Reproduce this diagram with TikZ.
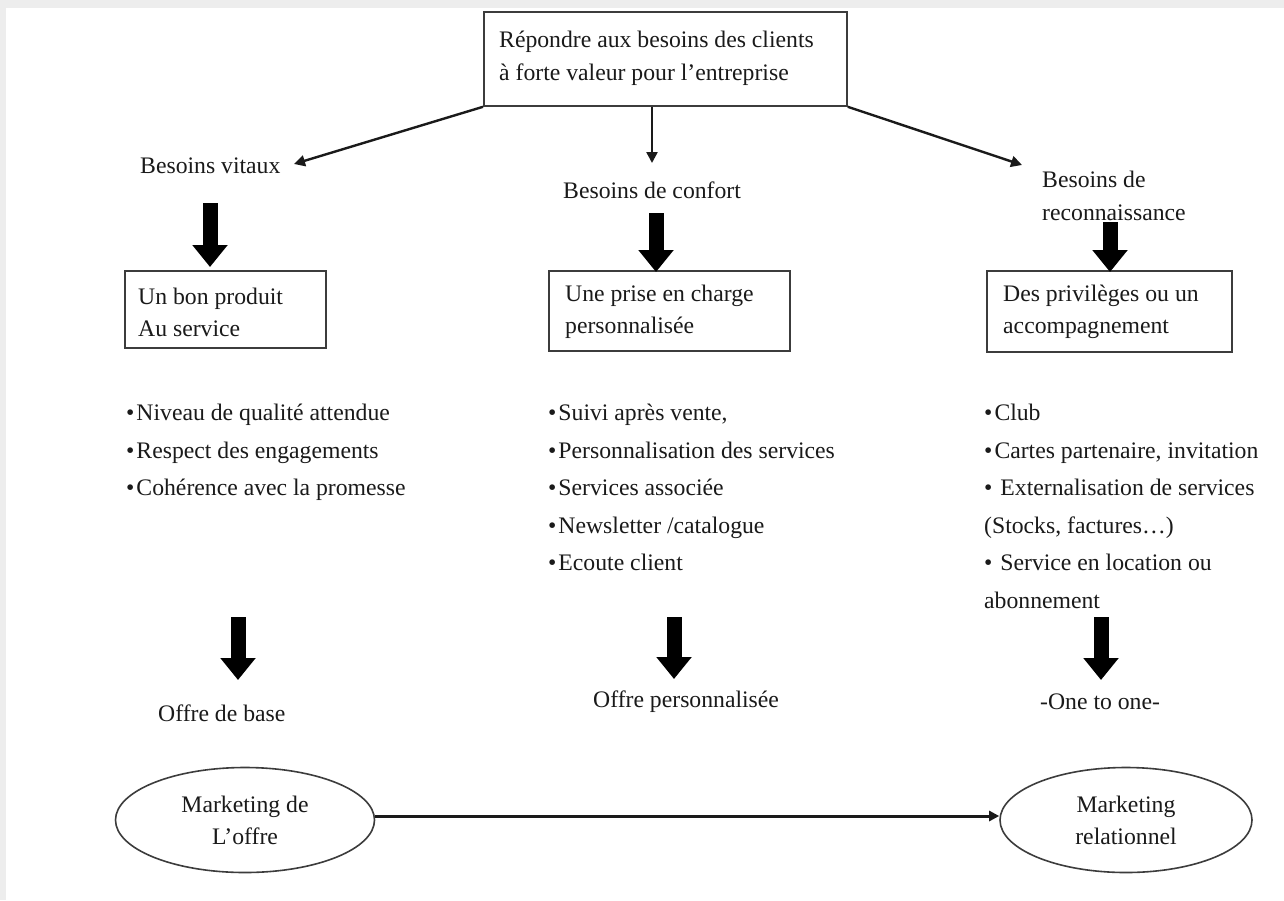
\documentclass[tikz,border=0pt]{standalone}
\usepackage{fontspec}
\setmainfont{Liberation Serif}
\usetikzlibrary{arrows.meta,shapes.geometric}
\definecolor{ink}{HTML}{1A1A1A}
\definecolor{frame}{HTML}{EDEDED}
\tikzset{
  txt/.style={anchor=west, inner sep=0pt, text=ink, font=\fontsize{23.7}{32}\selectfont, align=left},
  lst/.style={anchor=north west, inner sep=0pt, text=ink, font=\fontsize{23.7}{37.5}\selectfont, align=left},
  boxnode/.style={draw=ink!85, line width=1.8pt, anchor=north west, inner sep=0pt},
  ovalnode/.style={draw=ink!85, line width=1.6pt, ellipse, inner sep=0pt, text=ink,
     font=\fontsize{23.7}{32}\selectfont, align=center},
  thin/.style={draw=ink, line width=2.4pt, -{Triangle[width=11pt,length=11pt]}},
  fat/.style={draw=black, line width=15pt, -{Triangle[width=34pt,length=22pt]}},
  link/.style={draw=ink, line width=3pt, -{Triangle[width=10pt,length=10pt]}},
}
\newcommand{\bul}{\textbullet\hspace{2pt}}
\begin{document}
\begin{tikzpicture}[x=1pt,y=-1pt]
\useasboundingbox (0,0) rectangle (1284,900);
\fill[frame] (0,0) rectangle (1284,900);
\fill[white] (6,8) rectangle (1284,900);

% top box
\node[boxnode, minimum width=363pt, minimum height=94pt] (top) at (483,11) {};
\node[txt, font=\fontsize{23.7}{33}\selectfont] (topt) at (499,58)
  {Répondre aux besoins des clients\\à forte valeur pour l’entreprise};

% besoins
\node[txt] (bv) at (140,166) {Besoins vitaux};
\node[txt] (bc) at (563,190) {Besoins de confort};
\node[txt, font=\fontsize{23.7}{33}\selectfont] (br) at (1042,196) {Besoins de\\reconnaissance};

\coordinate (bvtip) at (294,164);
\coordinate (bctip) at (652,163);
\coordinate (brtip) at (1022,165);
\draw[thin] (top.south west) -- (bvtip);
\draw[thin] (top.south -| bctip) -- (bctip);
\draw[thin] (top.south east) -- (brtip);

% boxes
\node[boxnode, minimum width=201pt, minimum height=77pt] (b1) at (124,270) {};
\node[txt] (b1t) at (138,312) {Un bon produit\\Au service};
\node[boxnode, minimum width=241pt, minimum height=80pt] (b2) at (548,270) {};
\node[txt] (b2t) at (565,312) {Une prise en charge\\personnalisée};
\node[boxnode, minimum width=245pt, minimum height=81pt] (b3) at (986,270) {};
\node[txt] (b3t) at (1003,312) {Des privilèges ou un\\accompagnement};

% fat arrows upper
\coordinate (f1s) at (210,203); \coordinate (f1e) at (210,267);
\coordinate (f2s) at (656,213); \coordinate (f2e) at (656,272);
\coordinate (f3s) at (1110,222); \coordinate (f3e) at (1110,272);
\draw[fat] (f1s) -- (f1e);
\draw[fat] (f2s) -- (f2e);
\draw[fat] (f3s) -- (f3e);

% lists
\node[lst] (l1) at (126,404) {\bul Niveau de qualité attendue\\\bul Respect des engagements\\\bul Cohérence avec la promesse};
\node[lst] (l2) at (548,404) {\bul Suivi après vente,\\\bul Personnalisation des services\\\bul Services associée\\\bul Newsletter /catalogue\\\bul Ecoute client};
\node[lst] (l3) at (984,404) {\bul Club\\\bul Cartes partenaire, invitation\\\bul\ Externalisation de services\\(Stocks, factures…)\\\bul\ Service en location ou\\abonnement};

% fat arrows lower
\coordinate (g1s) at (238,617); \coordinate (g1e) at (238,680);
\coordinate (g2s) at (674,617); \coordinate (g2e) at (674,679);
\coordinate (g3s) at (1101,617); \coordinate (g3e) at (1101,680);
\draw[fat] (g1s) -- (g1e);
\draw[fat] (g2s) -- (g2e);
\draw[fat] (g3s) -- (g3e);

% offers
\node[txt] (o1) at (158,713) {Offre de base};
\node[txt] (o2) at (593,702) {Offre personnalisée};
\node[txt] (o3) at (1040,702) {-One to one-};

% ellipses
\node[ovalnode, minimum width=259pt, minimum height=105pt] (e1) at (245,820) {Marketing de\\L’offre};
\node[ovalnode, minimum width=252pt, minimum height=105pt] (e2) at (1126,820) {Marketing\\relationnel};
\coordinate (yl) at (0,816);
\draw[link] (e1.east |- yl) -- (e2.west |- yl);
\end{tikzpicture}
\end{document}
